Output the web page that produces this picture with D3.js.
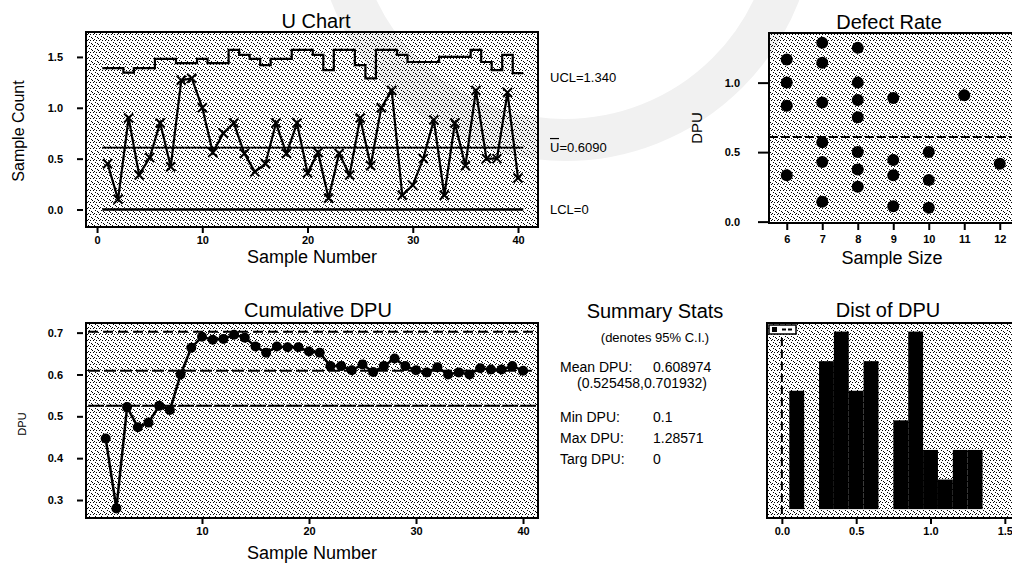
<!DOCTYPE html>
<html>
<head>
<meta charset="utf-8">
<script src="https://cdn.jsdelivr.net/npm/d3@7"></script>
<style>
  body { margin: 0; background: #fff; }
  text { font-family: "Liberation Sans", Arial, sans-serif; fill: #000; }
</style>
</head>
<body>
<svg id="chart" width="1012" height="563"></svg>
<script>
// ---- data ----
const sampleNumber = d3.range(1, 41);
const uValues = [0.45, 0.10, 0.90, 0.34, 0.51, 0.85, 0.42, 1.27, 1.29, 1.00,
                 0.56, 0.75, 0.85, 0.55, 0.37, 0.45, 0.85, 0.55, 0.85, 0.36,
                 0.56, 0.11, 0.55, 0.34, 0.90, 0.43, 1.00, 1.17, 0.14, 0.24,
                 0.50, 0.88, 0.14, 0.85, 0.43, 1.17, 0.50, 0.50, 1.15, 0.31];
const uclValues = [1.39, 1.39, 1.345, 1.39, 1.39, 1.48, 1.48, 1.44, 1.44, 1.48,
                   1.44, 1.44, 1.57, 1.52, 1.48, 1.42, 1.48, 1.48, 1.57, 1.57,
                   1.52, 1.37, 1.57, 1.57, 1.42, 1.29, 1.57, 1.57, 1.52, 1.45,
                   1.45, 1.45, 1.50, 1.50, 1.50, 1.57, 1.45, 1.37, 1.52, 1.34];
const uBar = 0.608974;
const lcl = 0;
const cumDpu = [0.447, 0.280, 0.522, 0.474, 0.485, 0.525, 0.515, 0.600, 0.664, 0.690,
                0.683, 0.685, 0.695, 0.688, 0.667, 0.652, 0.667, 0.665, 0.665, 0.655,
                0.652, 0.620, 0.620, 0.610, 0.624, 0.606, 0.620, 0.638, 0.620, 0.610,
                0.605, 0.617, 0.600, 0.605, 0.600, 0.615, 0.612, 0.612, 0.620, 0.609];
const ciLower = 0.525458;
const ciUpper = 0.701932;
const rateSize = [6, 6, 6, 6, 7, 7, 7, 7, 7, 7, 8, 8, 8, 8, 8, 8, 8, 9, 9, 9, 9, 10, 10, 10, 11, 12];
const rateDpu = [1.167, 1.0, 0.833, 0.333, 1.286, 1.143, 0.857, 0.571, 0.429, 0.143,
                 1.25, 1.0, 0.875, 0.75, 0.5, 0.375, 0.25, 0.889, 0.444, 0.333, 0.111,
                 0.5, 0.3, 0.1, 0.909, 0.417];
const histMid = [0.1, 0.2, 0.3, 0.4, 0.5, 0.6, 0.7, 0.8, 0.9, 1.0, 1.1, 1.2, 1.3];
const histCount = [4, 0, 5, 6, 4, 5, 0, 3, 6, 2, 1, 2, 2];
const binWidth = 0.1;
const targetDpu = 0;

const uTicksX = [0, 10, 20, 30, 40];
const uTicksY = [0, 0.5, 1.0, 1.5];
const cumTicksX = [10, 20, 30, 40];
const cumTicksY = [0.3, 0.4, 0.5, 0.6, 0.7];
const rateTicksX = [6, 7, 8, 9, 10, 11, 12];
const rateTicksY = [0, 0.5, 1.0];
const distTicksX = [0, 0.5, 1.0, 1.5];

const statsRows = [
  ["Mean DPU:", "0.608974"],
  ["Min DPU:", "0.1"],
  ["Max DPU:", "1.28571"],
  ["Targ DPU:", "0"]
];

const svg = d3.select("#chart");
const f1 = d3.format(".1f");

// faint watermark arc behind everything
svg.append("circle")
  .attr("cx", 565).attr("cy", -90).attr("r", 230)
  .attr("fill", "none").attr("stroke", "#f1f1f1").attr("stroke-width", 42);

// stipple texture standing in for the dithered plot backgrounds
const defs = svg.append("defs");
const pat = defs.append("pattern")
  .attr("id", "dither")
  .attr("width", 6).attr("height", 6)
  .attr("patternUnits", "userSpaceOnUse");
pat.append("path")
  .attr("d", "M1,1 l2,2 M5,0 l1,1 M3,5 l2,-2 M0,4 l1,1")
  .attr("stroke", "#000").attr("stroke-width", 1).attr("fill", "none");

function frame(x0, y0, x1, y1) {
  svg.append("rect")
    .attr("x", x0).attr("y", y0)
    .attr("width", x1 - x0).attr("height", y1 - y0)
    .attr("fill", "url(#dither)")
    .attr("stroke", "#000").attr("stroke-width", 2);
}

function styleAxis(g) {
  g.select(".domain").remove();
  g.attr("font-family", null).attr("font-size", null);
  g.selectAll("line").attr("stroke", "#000").attr("stroke-width", 2);
  g.selectAll("text").style("font-size", "11px").style("font-weight", "bold");
}

function leftAxis(scale, x, ticks, len, pad) {
  svg.append("g")
    .attr("transform", `translate(${x},0)`)
    .call(d3.axisLeft(scale).tickValues(ticks).tickFormat(f1).tickSize(len).tickPadding(pad))
    .call(styleAxis);
}

function bottomAxis(scale, y, ticks, fmt, len, pad) {
  svg.append("g")
    .attr("transform", `translate(0,${y})`)
    .call(d3.axisBottom(scale).tickValues(ticks).tickFormat(fmt).tickSize(len).tickPadding(pad))
    .call(styleAxis);
}

function label(x, y, txt, size, rotate) {
  const t = svg.append("text")
    .attr("x", x).attr("y", y)
    .attr("text-anchor", "middle")
    .attr("dominant-baseline", "central")
    .style("font-size", size + "px")
    .text(txt);
  if (rotate) t.attr("transform", `rotate(-90,${x},${y})`);
  return t;
}

// ================= U Chart =================
const ux = d3.scaleLinear().domain([-1.05, 41.9]).range([86, 538]);
const uy = d3.scaleLinear().domain([-0.172, 1.745]).range([227, 32]);
frame(86, 32, 538, 227);

// UCL steps
const uclPts = sampleNumber.map((s, i) => [s - 0.5, uclValues[i]]);
uclPts.push([40.5, uclValues[39]]);
svg.append("path")
  .attr("d", d3.line().x(d => ux(d[0])).y(d => uy(d[1])).curve(d3.curveStepAfter)(uclPts))
  .attr("fill", "none").attr("stroke", "#000").attr("stroke-width", 2.2);

[[uBar, 1.8], [lcl, 2.5]].forEach(([v, w]) => {
  svg.append("line")
    .attr("x1", ux(0.5)).attr("x2", ux(40.5))
    .attr("y1", uy(v)).attr("y2", uy(v))
    .attr("stroke", "#000").attr("stroke-width", w);
});

svg.append("path")
  .attr("d", d3.line().x((d, i) => ux(sampleNumber[i])).y(d => uy(d))(uValues))
  .attr("fill", "none").attr("stroke", "#000").attr("stroke-width", 2.2);

svg.append("g").selectAll("path")
  .data(uValues)
  .join("path")
  .attr("d", (d, i) => {
    const x = ux(sampleNumber[i]), y = uy(d), s = 4.5;
    return `M${x - s},${y - s}L${x + s},${y + s}M${x - s},${y + s}L${x + s},${y - s}`;
  })
  .attr("stroke", "#000").attr("stroke-width", 2);

leftAxis(uy, 83, uTicksY, 6, 14);
bottomAxis(ux, 228, uTicksX, d3.format("d"), 5, 3);

label(316, 21, "U Chart", 20);
label(312, 257, "Sample Number", 18);
label(18, 131, "Sample Count", 16, true);

svg.append("text").attr("x", 550).attr("y", uy(uclValues[39]) + 4)
  .attr("dominant-baseline", "central").style("font-size", "13px")
  .text("UCL=" + d3.format(".3f")(uclValues[39]));
svg.append("text").attr("x", 550).attr("y", uy(uBar))
  .attr("dominant-baseline", "central").style("font-size", "13px")
  .text("U=" + d3.format(".4f")(uBar));
svg.append("line").attr("x1", 550).attr("x2", 559)
  .attr("y1", uy(uBar) - 9).attr("y2", uy(uBar) - 9)
  .attr("stroke", "#000").attr("stroke-width", 1.2);
svg.append("text").attr("x", 550).attr("y", uy(lcl))
  .attr("dominant-baseline", "central").style("font-size", "13px")
  .text("LCL=" + lcl);

// ================= Defect Rate =================
const rx = d3.scaleLinear().domain([5.5, 13.5]).range([769, 1053]);
const ry = d3.scaleLinear().domain([-0.01, 1.357]).range([223, 33]);
frame(769, 33, 1053, 223);

svg.append("line")
  .attr("x1", 769).attr("x2", 1053)
  .attr("y1", ry(uBar)).attr("y2", ry(uBar))
  .attr("stroke", "#000").attr("stroke-width", 2)
  .attr("stroke-dasharray", "9,3");

svg.append("g").selectAll("circle")
  .data(rateDpu)
  .join("circle")
  .attr("cx", (d, i) => rx(rateSize[i]))
  .attr("cy", d => ry(d))
  .attr("r", 6)
  .attr("fill", "#000");

leftAxis(ry, 768, rateTicksY, 10, 18);
bottomAxis(rx, 224, rateTicksX, d3.format("d"), 6, 5);

label(889, 22, "Defect Rate", 20);
label(892, 258, "Sample Size", 18);
label(696, 128, "DPU", 15, true);

// ================= Cumulative DPU =================
const cx = d3.scaleLinear().domain([-0.84, 41.4]).range([86, 538]);
const cy = d3.scaleLinear().domain([0.257, 0.723]).range([518, 323]);
frame(86, 323, 538, 518);

[[ciUpper, "10,5"], [uBar, "12,4"], [ciLower, "16,2"]].forEach(([v, dash]) => {
  svg.append("line")
    .attr("x1", 88).attr("x2", 536)
    .attr("y1", cy(v)).attr("y2", cy(v))
    .attr("stroke", "#000").attr("stroke-width", 2)
    .attr("stroke-dasharray", dash);
});

svg.append("path")
  .attr("d", d3.line().x((d, i) => cx(sampleNumber[i])).y(d => cy(d))(cumDpu))
  .attr("fill", "none").attr("stroke", "#000").attr("stroke-width", 2.5);

svg.append("g").selectAll("circle")
  .data(cumDpu)
  .join("circle")
  .attr("cx", (d, i) => cx(sampleNumber[i]))
  .attr("cy", d => cy(d))
  .attr("r", 5)
  .attr("fill", "#000");

leftAxis(cy, 83, cumTicksY, 6, 14);
bottomAxis(cx, 519, cumTicksX, d3.format("d"), 5, 3);

label(318, 310, "Cumulative DPU", 20);
label(312, 553, "Sample Number", 18);
label(22, 424, "DPU", 11, true);

// ================= Summary Stats =================
label(655, 311, "Summary Stats", 20);
label(655, 337, "(denotes 95% C.I.)", 13);

const statY = [367, 417, 438, 459];
statsRows.forEach((r, i) => {
  svg.append("text").attr("x", 560).attr("y", statY[i])
    .attr("dominant-baseline", "central").style("font-size", "14px").text(r[0]);
  svg.append("text").attr("x", 653).attr("y", statY[i])
    .attr("dominant-baseline", "central").style("font-size", "14px").text(r[1]);
});
svg.append("text").attr("x", 577).attr("y", 383)
  .attr("dominant-baseline", "central").style("font-size", "14px")
  .text(`(${ciLower},${ciUpper})`);

// ================= Dist of DPU =================
const dx = d3.scaleLinear().domain([-0.1, 1.75]).range([767, 1042]);
const dy = d3.scaleLinear().domain([-0.3, 6.29]).range([518, 323]);
frame(767, 323, 1042, 518);

svg.append("g").selectAll("rect")
  .data(histCount)
  .join("rect")
  .attr("x", (d, i) => dx(histMid[i] - binWidth / 2))
  .attr("width", (d, i) => dx(histMid[i] + binWidth / 2) - dx(histMid[i] - binWidth / 2))
  .attr("y", d => dy(d))
  .attr("height", d => dy(0) - dy(d))
  .attr("fill", "#000");

svg.append("line")
  .attr("x1", dx(targetDpu)).attr("x2", dx(targetDpu))
  .attr("y1", 326).attr("y2", 516)
  .attr("stroke", "#000").attr("stroke-width", 2)
  .attr("stroke-dasharray", "8,4");

svg.append("rect").attr("x", 769).attr("y", 325).attr("width", 27).attr("height", 9)
  .attr("fill", "#fff").attr("stroke", "#000").attr("stroke-width", 1.5);
svg.append("rect").attr("x", 772).attr("y", 327).attr("width", 5).attr("height", 5).attr("fill", "#000");
svg.append("line").attr("x1", 782).attr("x2", 793).attr("y1", 329.5).attr("y2", 329.5)
  .attr("stroke", "#000").attr("stroke-width", 2).attr("stroke-dasharray", "4,2");

bottomAxis(dx, 519, distTicksX, f1, 5, 3);
label(888, 310, "Dist of DPU", 20);
</script>
</body>
</html>
